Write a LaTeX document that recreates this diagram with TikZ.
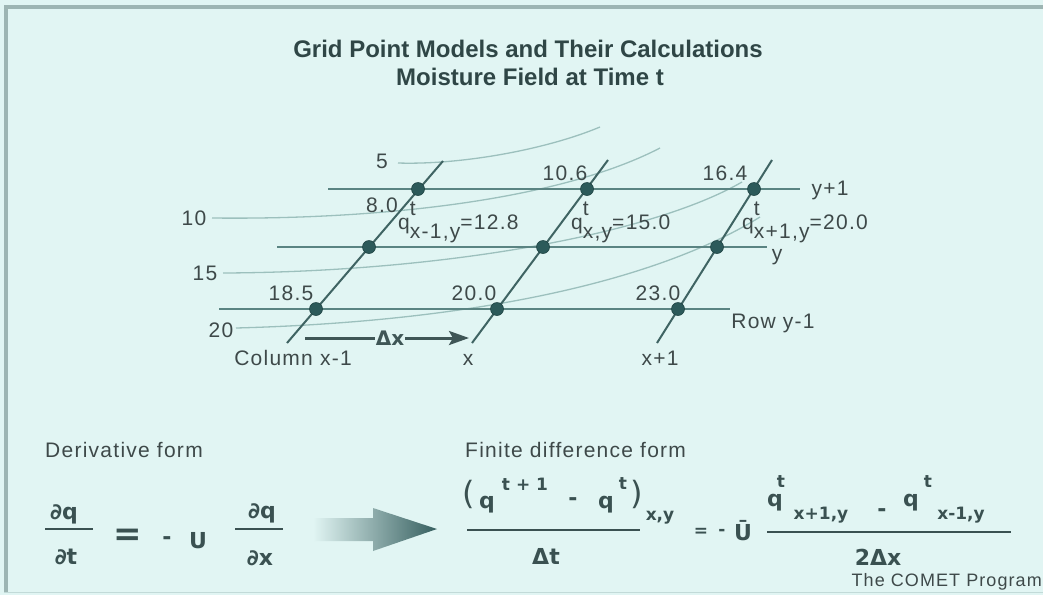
\documentclass[tikz,border=0pt]{standalone}
\usepackage{fontspec}
\setmainfont{Liberation Sans}
\newfontfamily\lfont[LetterSpace=6]{Liberation Sans}
\newfontfamily\tfont{Liberation Sans}
\newfontfamily\efont{DejaVu Sans}
\usetikzlibrary{arrows.meta}
\definecolor{bg}{HTML}{E1F5F3}
\definecolor{framec}{HTML}{9DB5B3}
\definecolor{framel}{HTML}{C2DAD8}
\definecolor{rowc}{HTML}{5A8482}
\definecolor{colc}{HTML}{3F6463}
\definecolor{contc}{HTML}{9CC0BD}
\definecolor{txt}{HTML}{3E4949}
\definecolor{titc}{HTML}{2F4646}
\definecolor{eqc}{HTML}{3A5151}
\definecolor{dotc}{HTML}{2C5A5A}
\definecolor{dotd}{HTML}{1F4444}
\definecolor{arrc}{HTML}{365F5F}
\definecolor{dxc}{HTML}{3F5656}
\begin{document}
\begin{tikzpicture}[x=1pt,y=-1pt,
  lab/.style={font={\lfont\fontsize{21}{24}\selectfont}, text=txt, inner sep=0pt},
  smalllab/.style={font={\lfont\fontsize{18}{21}\selectfont}, text=txt, inner sep=0pt},
  title/.style={font={\tfont\bfseries\fontsize{24}{28}\selectfont}, text=titc, inner sep=0pt},
  eq/.style={font={\efont\bfseries\fontsize{22}{26}\selectfont}, text=eqc, inner sep=0pt},
  eqs/.style={font={\efont\bfseries\fontsize{17}{20}\selectfont}, text=eqc, inner sep=0pt},
  eqp/.style={font={\efont\fontsize{32}{36}\selectfont}, text=eqc, inner sep=0pt},
  rowline/.style={draw=rowc, line width=2.4pt},
  colline/.style={draw=colc, line width=2pt},
  contour/.style={draw=contc, line width=1.3pt},
  gpt/.style={circle, fill=dotc, draw=dotd, line width=0.6pt, minimum size=13pt, inner sep=0pt},
  fracline/.style={draw=eqc, line width=1.6pt},
  dxline/.style={draw=dxc, line width=3pt},
]
\useasboundingbox (0,0) rectangle (1043,595);
\clip (0,0) rectangle (1043,595);
% background and frame
\fill[bg] (0,0) rectangle (1043,595);
\fill[framec] (4,5) rectangle (1043,9);
\fill[framec] (4,5) rectangle (8,592);
\draw[framel, line width=1.5pt] (4,592.5) -- (1043,592.5);

% title
\node[title] (t1) at (528,49) {Grid Point Models and Their Calculations};
\node[title] (t2) at (530,77) {Moisture Field at Time t};

% contour lines
\coordinate (k5a) at (398,163);  \coordinate (k5b) at (600,127);
\coordinate (k10a) at (212,218); \coordinate (k10b) at (660,148);
\coordinate (k15a) at (223,273); \coordinate (k15b) at (742,182);
\coordinate (k20a) at (236,328); \coordinate (k20b) at (760,217);
\draw[contour] (k5a) .. controls (460,165) and (545,150) .. (k5b);
\draw[contour] (k10a) .. controls (380,220) and (560,200) .. (k10b);
\draw[contour] (k15a) .. controls (440,272) and (650,235) .. (k15b);
\draw[contour] (k20a) .. controls (460,322) and (650,285) .. (k20b);

% grid lines
\coordinate (r1l) at (328,189); \coordinate (r1r) at (800,189);
\coordinate (r2l) at (277,247); \coordinate (r2r) at (767,247);
\coordinate (r3l) at (219,309); \coordinate (r3r) at (730,309);
\coordinate (c1b) at (287,343); \coordinate (c1t) at (443,161);
\coordinate (c2b) at (472,343); \coordinate (c2t) at (608,160);
\coordinate (c3b) at (657,343); \coordinate (c3t) at (772,160);
\draw[rowline] (r1l) -- (r1r);
\draw[rowline] (r2l) -- (r2r);
\draw[rowline] (r3l) -- (r3r);
\draw[colline] (c1b) -- (c1t);
\draw[colline] (c2b) -- (c2t);
\draw[colline] (c3b) -- (c3t);

% grid points
\node[gpt] (p11) at (418,189) {};
\node[gpt] (p12) at (587,189) {};
\node[gpt] (p13) at (754,189) {};
\node[gpt] (p21) at (369,247) {};
\node[gpt] (p22) at (543,247) {};
\node[gpt] (p23) at (717,247) {};
\node[gpt] (p31) at (316,309) {};
\node[gpt] (p32) at (497,309) {};
\node[gpt] (p33) at (678,309) {};

% contour labels
\node[lab] (l5) at (382,161) {5};
\node[lab] (l10) at (194,218) {10};
\node[lab] (l15) at (205,273) {15};
\node[lab] (l20) at (221,330) {20};

% values
\node[lab] (v11) at (382,205) {8.0};
\node[lab] (v12) at (565,173) {10.6};
\node[lab] (v13) at (725,173) {16.4};
\node[lab] (v31) at (291,293) {18.5};
\node[lab] (v32) at (474,293) {20.0};
\node[lab] (v33) at (658,293) {23.0};
\node[lab, anchor=base west] (q1) at (398,229) {q\rlap{\raisebox{14pt}{t}}\raisebox{-9pt}{x-1,y}=12.8};
\node[lab, anchor=base west] (q2) at (571,229) {q\rlap{\raisebox{14pt}{t}}\raisebox{-9pt}{x,y}=15.0};
\node[lab, anchor=base west] (q3) at (742,229) {q\rlap{\raisebox{14pt}{t}}\raisebox{-9pt}{x+1,y}=20.0};

% axis labels
\node[lab] (ly1) at (830,190) {y+1};
\node[lab] (ly) at (777,257) {y};
\node[lab] (lrow) at (773,323) {Row y-1};
\node[lab] (lcol) at (293,358) {Column x-1};
\node[lab] (lx) at (468,360) {x};
\node[lab] (lx1) at (660,358) {x+1};

% delta x arrow
\node[font={\efont\bfseries\fontsize{20}{24}\selectfont}, text=dxc, inner sep=1pt] (dx) at (390,338) {Δx};
\coordinate (dxs) at (305,338);
\coordinate (dxe) at (469,338);
\draw[dxline] (dxs) -- (dx.west);
\draw[dxline, -{Stealth[length=20pt,width=14pt,inset=4pt]}] (dx.east) -- (dxe);

% headings
\node[lab, anchor=west] (df) at (45,450) {Derivative form};
\node[lab, anchor=west] (fd) at (465,450) {Finite difference form};

% derivative form
\node[eq] (n1) at (64,514) {∂q};
\node[eq] (d1) at (66,557) {∂t};
\coordinate (f1a) at (45,529); \coordinate (f1b) at (93,529);
\draw[fracline] (f1a) -- (f1b);
\node[font={\efont\bfseries\fontsize{34}{36}\selectfont}, text=eqc, inner sep=0pt] (eq1) at (128,537) {=};
\node[eq] (m1) at (167,541) {-};
\node[eq] (u1) at (198,541) {U};
\node[eq] (n2) at (262,513) {∂q};
\node[eq] (d2) at (260,558) {∂x};
\coordinate (f2a) at (235,529); \coordinate (f2b) at (283,529);
\draw[fracline] (f2a) -- (f2b);

% big gradient arrow
\coordinate (a1) at (313,518); \coordinate (a2) at (373,518);
\coordinate (a3) at (373,508); \coordinate (a4) at (437,529);
\coordinate (a5) at (373,551); \coordinate (a6) at (373,541);
\coordinate (a7) at (313,541);
\shade[left color=bg, right color=arrc] (a1) -- (a2) -- (a3) -- (a4) -- (a5) -- (a6) -- (a7) -- cycle;

% finite difference form, left side
\node[eqp] (lp) at (469,494) {(};
\node[eq] (qa) at (487,505) {q};
\node[eqs] (ta) at (525,484) {t + 1};
\node[eq] (mb) at (573,502) {-};
\node[eq] (qb) at (606,505) {q};
\node[eqs] (tb) at (623,484) {t};
\node[eqp] (rp) at (637,494) {)};
\node[eqs] (xy1) at (660,518) {x,y};
\coordinate (f3a) at (467,530); \coordinate (f3b) at (640,530);
\draw[fracline] (f3a) -- (f3b);
\node[eq] (dt) at (546,556) {Δt};

% right side
\node[eqs] (eq2) at (701,532) {=};
\node[eqs] (m2) at (722,532) {-};
\node[eq] (ub) at (743,531) {Ū};
\node[eq] (qc) at (775,503) {q};
\node[eqs] (tc) at (781,482) {t};
\node[eqs] (sc) at (821,515) {x+1,y};
\node[eq] (mc) at (882,513) {-};
\node[eq] (qd) at (911,503) {q};
\node[eqs] (td) at (928,482) {t};
\node[eqs] (sd) at (961,515) {x-1,y};
\coordinate (f4a) at (767,532); \coordinate (f4b) at (1011,532);
\draw[fracline] (f4a) -- (f4b);
\node[eq] (den) at (878,557) {2Δx};

% credit
\node[smalllab, anchor=east] (comet) at (1042,582) {The COMET Program};
\end{tikzpicture}
\end{document}
